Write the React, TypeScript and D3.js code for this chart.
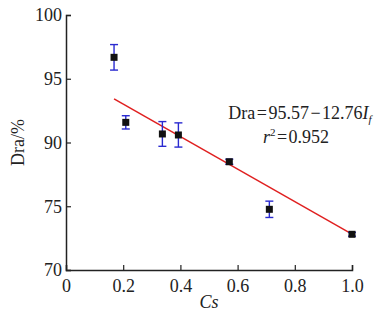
import * as d3 from "d3"
import React, { useRef, useEffect } from 'react';

// measured points (Cs vs Dra), with error bar half widths
const csValues = [0.168, 0.209, 0.337, 0.393, 0.571, 0.711, 1.0];
const draValues = [96.68, 91.58, 90.67, 90.59, 88.49, 84.76, 82.8];
const draErrors = [1.0, 0.52, 0.97, 0.95, 0.2, 0.64, 0.15];

// y ticks as printed on the figure
const yTickValues = [80, 85, 90, 95, 100];
const yTickLabels = ["70", "75", "90", "95", "100"];
const xTickValues = [0, 0.2, 0.4, 0.6, 0.8, 1.0];
const xTickLabels = ["0", "0.2", "0.4", "0.6", "0.8", "1.0"];

// fit: Dra = 95.57 - 12.76 x
const fitIntercept = 95.57;
const fitSlope = -12.76;
const fitRange = [0.168, 1.0];

const App: React.FC = () => {
    const svgRef = useRef<SVGSVGElement | null>(null);

    useEffect(() => {
        const width = 379;
        const height = 320;
        const t = 15, r = 27, b = 50, l = 66;
        const w = width - l - r;
        const h = height - t - b;
        const font = '"Liberation Serif", "Times New Roman", serif';
        const fs = 18;

        const svg = d3.select(svgRef.current)
            .attr('width', width)
            .attr('height', height);
        svg.selectAll('*').remove();

        svg.append('rect').attr('width', width).attr('height', height).attr('fill', '#fff');

        const x = d3.scaleLinear().domain([0, 1]).range([0, w]);
        const y = d3.scaleLinear().domain([80, 100]).range([h, 0]);

        const g = svg.append('g').attr('transform', `translate(${l},${t})`);

        // axes, ticks pointing inward
        const xAxis = g.append('g')
            .attr('transform', `translate(0,${h})`)
            .call(d3.axisBottom(x).tickValues(xTickValues).tickSize(-5).tickPadding(9)
                .tickFormat((d, i) => xTickLabels[i]));
        const yAxis = g.append('g')
            .call(d3.axisLeft(y).tickValues(yTickValues).tickSize(-5).tickPadding(4)
                .tickFormat((d, i) => yTickLabels[i]));
        [xAxis, yAxis].forEach(a => {
            a.select('.domain').attr('stroke', '#222').attr('stroke-width', 1.5);
            a.selectAll('.tick line').attr('stroke', '#222').attr('stroke-width', 1.2);
            a.selectAll('.tick text').attr('font-family', font).attr('font-size', fs).attr('fill', '#222');
        });

        // regression line
        const line = d3.line<number>().x(d => x(d)).y(d => y(fitIntercept + fitSlope * d));
        g.append('path')
            .attr('d', line(fitRange))
            .attr('fill', 'none')
            .attr('stroke', '#e02020')
            .attr('stroke-width', 1.5);

        const pts = csValues.map((c, i) => ({ c, v: draValues[i], e: draErrors[i] }));

        // error bars
        const eb = g.selectAll('.eb').data(pts).enter().append('g').attr('class', 'eb')
            .attr('stroke', '#2a2ad0').attr('stroke-width', 1.4);
        eb.append('line')
            .attr('x1', d => x(d.c)).attr('x2', d => x(d.c))
            .attr('y1', d => y(d.v + d.e)).attr('y2', d => y(d.v - d.e));
        eb.append('line')
            .attr('x1', d => x(d.c) - 4).attr('x2', d => x(d.c) + 4)
            .attr('y1', d => y(d.v + d.e)).attr('y2', d => y(d.v + d.e));
        eb.append('line')
            .attr('x1', d => x(d.c) - 4).attr('x2', d => x(d.c) + 4)
            .attr('y1', d => y(d.v - d.e)).attr('y2', d => y(d.v - d.e));

        // markers
        g.selectAll('.pt').data(pts).enter().append('rect')
            .attr('x', d => x(d.c) - 3.5).attr('y', d => y(d.v) - 3.5)
            .attr('width', 7).attr('height', 7)
            .attr('fill', '#111');

        // equation
        const eq = svg.append('text')
            .attr('x', 300).attr('y', 119)
            .attr('text-anchor', 'middle')
            .attr('font-family', font).attr('font-size', fs).attr('fill', '#222');
        eq.append('tspan').text('Dra\u200a=\u200a95.57\u200a\u2212\u200a12.76');
        eq.append('tspan').attr('font-style', 'italic').text('I');
        eq.append('tspan').attr('font-style', 'italic').attr('font-size', 11).attr('dy', 4).text('f');

        const r2 = svg.append('text')
            .attr('x', 296).attr('y', 143)
            .attr('text-anchor', 'middle')
            .attr('font-family', font).attr('font-size', fs).attr('fill', '#222');
        r2.append('tspan').attr('font-style', 'italic').text('r');
        r2.append('tspan').attr('font-size', 11).attr('dy', -7).text('2');
        r2.append('tspan').attr('dy', 7).text('\u200a=\u200a0.952');

        // axis titles
        svg.append('text')
            .attr('x', l + x(0.5)).attr('y', 308)
            .attr('text-anchor', 'middle')
            .attr('font-family', font).attr('font-size', fs).attr('font-style', 'italic').attr('fill', '#222')
            .text('Cs');
        svg.append('text')
            .attr('transform', `translate(24,${t + h / 2}) rotate(-90)`)
            .attr('text-anchor', 'middle')
            .attr('font-family', font).attr('font-size', fs).attr('fill', '#222')
            .text('Dra/%');
    }, []);

    return (
        <svg ref={svgRef} style={{ position: 'absolute', left: 0, top: 0 }}></svg>
    );
};

export default App;
